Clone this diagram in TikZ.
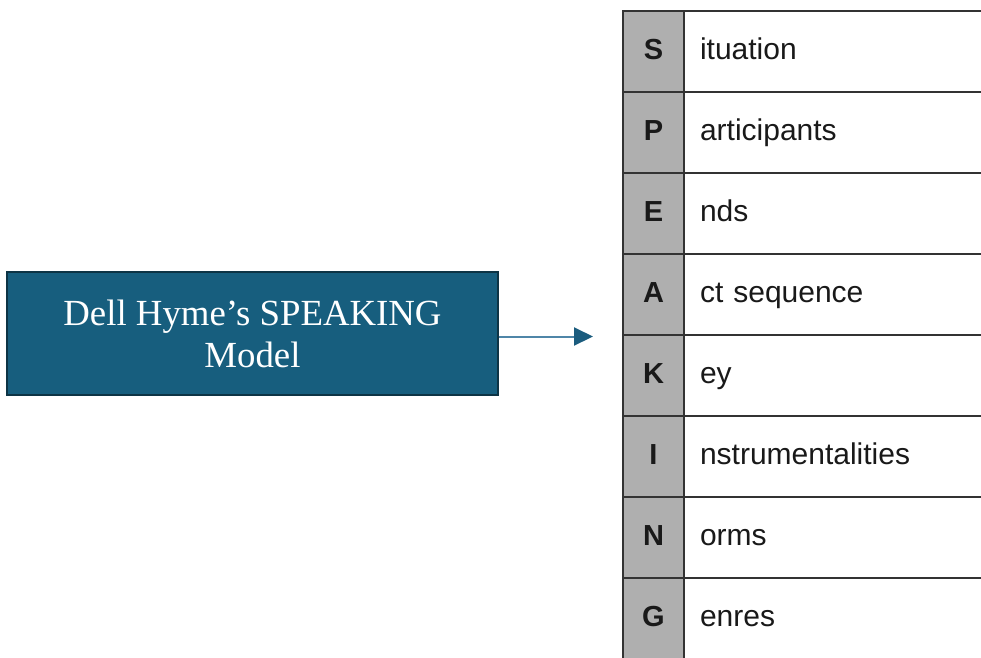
\documentclass[tikz,border=0pt]{standalone}
\usepackage{fontspec}
\setmainfont{Liberation Serif}
\setsansfont{Liberation Sans}
\usetikzlibrary{arrows.meta,positioning}
\definecolor{boxblue}{HTML}{175E7E}
\definecolor{arrowblue}{HTML}{4F86A8}
\definecolor{tipblue}{HTML}{1B5C7E}
\definecolor{cellgray}{HTML}{AFAFAF}
\definecolor{rulegray}{HTML}{333333}

\begin{document}
\begin{tikzpicture}[x=1pt,y=-1pt,
	cell/.style={draw=rulegray,line width=1.2pt,outer sep=0pt,minimum height=81pt,inner sep=0pt,text height=21pt,text depth=6pt,text=black!90},
	letter/.style={cell,fill=cellgray,minimum width=61pt,font=\sffamily\bfseries\fontsize{29}{30}\selectfont},
	word/.style={cell,minimum width=300pt,inner xsep=16pt,text width=268pt,align=left,font=\sffamily\fontsize{30}{32}\selectfont},
	model/.style={draw=boxblue!55!black,line width=1.2pt,fill=boxblue,text=white,minimum width=491pt,minimum height=123pt,align=center,font=\fontsize{36.8}{42}\selectfont}]
	  \useasboundingbox (0,0) rectangle (981,657);
	  % SPEAKING table
	  \foreach \l/\w [count=\i] in {S/ituation,P/articipants,E/nds,A/ct sequence,K/ey,I/nstrumentalities,N/orms,G/enres}{
	    \node (L\i) [letter] at (653.5,{11+40.5+81*(\i-1)}) {\l};
	    \node (W\i) [word,right=0pt of L\i] {\w};
	  }
	  % model box and arrow
	  \node (hyme) [model] at (252.5,333.5) {Dell Hyme’s SPEAKING\\Model};
	  \coordinate (tip) at (593,336.5);
	  \draw [arrowblue,line width=2pt,-{Triangle[length=19pt,width=18pt,color=tipblue]}] (hyme.east |- tip) -- (tip);
	\end{tikzpicture}
\end{document}
